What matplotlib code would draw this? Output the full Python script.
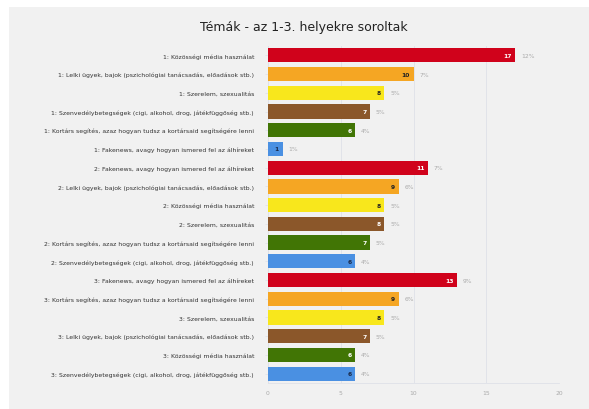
import matplotlib.pyplot as plt
import matplotlib.patches as patches

plt.rcParams['font.family'] = ['DejaVu Sans']

# Data
labels = [
    "1: Közösségi média használat",
    "1: Lelki ügyek, bajok (pszichológiai tanácsadás, előadások stb.)",
    "1: Szerelem, szexualitás",
    "1: Szenvedélybetegségek (cigi, alkohol, drog, játékfüggőség stb.)",
    "1: Kortárs segítés, azaz hogyan tudsz a kortársaid segítségére lenni",
    "1: Fakenews, avagy hogyan ismered fel az álhíreket",
    "2: Fakenews, avagy hogyan ismered fel az álhíreket",
    "2: Lelki ügyek, bajok (pszichológiai tanácsadás, előadások stb.)",
    "2: Közösségi média használat",
    "2: Szerelem, szexualitás",
    "2: Kortárs segítés, azaz hogyan tudsz a kortársaid segítségére lenni",
    "2: Szenvedélybetegségek (cigi, alkohol, drog, játékfüggőség stb.)",
    "3: Fakenews, avagy hogyan ismered fel az álhíreket",
    "3: Kortárs segítés, azaz hogyan tudsz a kortársaid segítségére lenni",
    "3: Szerelem, szexualitás",
    "3: Lelki ügyek, bajok (pszichológiai tanácsadás, előadások stb.)",
    "3: Közösségi média használat",
    "3: Szenvedélybetegségek (cigi, alkohol, drog, játékfüggőség stb.)",
]
values = [17, 10, 8, 7, 6, 1, 11, 9, 8, 8, 7, 6, 13, 9, 8, 7, 6, 6]
percents = ["12%", "7%", "5%", "5%", "4%", "1%", "7%", "6%", "5%", "5%", "5%", "4%",
            "9%", "6%", "5%", "5%", "4%", "4%"]
x_ticks = [0, 5, 10, 15, 20]

palette = ['#d0021b', '#f5a623', '#f8e71c', '#8b572a', '#417505', '#4a90e2']
text_on = ['white', '#222222', '#222222', 'white', 'white', '#1a2a4a']
colors = [palette[i % 6] for i in range(len(values))]
txt_colors = [text_on[i % 6] for i in range(len(values))]

W, H = 589, 410
fig = plt.figure(figsize=(W / 100, H / 100), dpi=100)
fig.patch.set_facecolor('white')

# gray panel
fig.patches.append(patches.Rectangle((9 / W, 0), 1, (H - 8) / H, transform=fig.transFigure,
                                     facecolor='#f1f1f1', edgecolor='none', zorder=-10))

fig.text(304 / W, 1 - 27 / H, "Témák - az 1-3. helyekre soroltak", ha='center', va='center',
         fontsize=9, color='#222222')

ax = fig.add_axes([268 / W, 1 - 384 / H, (559 - 268) / W, (384 - 47) / H])
ax.set_facecolor('none')

y = list(range(len(values)))
ax.barh(y, values, height=0.76, color=colors, zorder=3)
ax.set_ylim(len(values) - 0.5, -0.5)
ax.set_xlim(0, 20)

for yi, v, p, tc in zip(y, values, percents, txt_colors):
    ax.text(v - 0.25, yi, str(v), ha='right', va='center', fontsize=4.3,
            fontweight='bold', color=tc, zorder=4)
    ax.text(v + 0.4, yi, p, ha='left', va='center', fontsize=4.3, color='#aaaaaa', zorder=4)

ax.set_yticks(y)
ax.set_yticklabels(labels, fontsize=4.4, color='#333333')
ax.set_xticks(x_ticks)
ax.set_xticklabels([str(t) for t in x_ticks], fontsize=4.3, color='#aaaaaa')
ax.tick_params(axis='y', length=2, width=0.5, color='#dcdfe8', pad=8)
ax.tick_params(axis='x', length=0, pad=5)

ax.grid(axis='x', color='#dfe1e8', linewidth=0.6, zorder=0)
for s in ['top', 'right']:
    ax.spines[s].set_visible(False)
ax.spines['left'].set_color('#dfe1e8')
ax.spines['left'].set_linewidth(0.6)
ax.spines['bottom'].set_color('#dfe1e8')
ax.spines['bottom'].set_linewidth(0.6)

fig.savefig('out.png', dpi=100)
